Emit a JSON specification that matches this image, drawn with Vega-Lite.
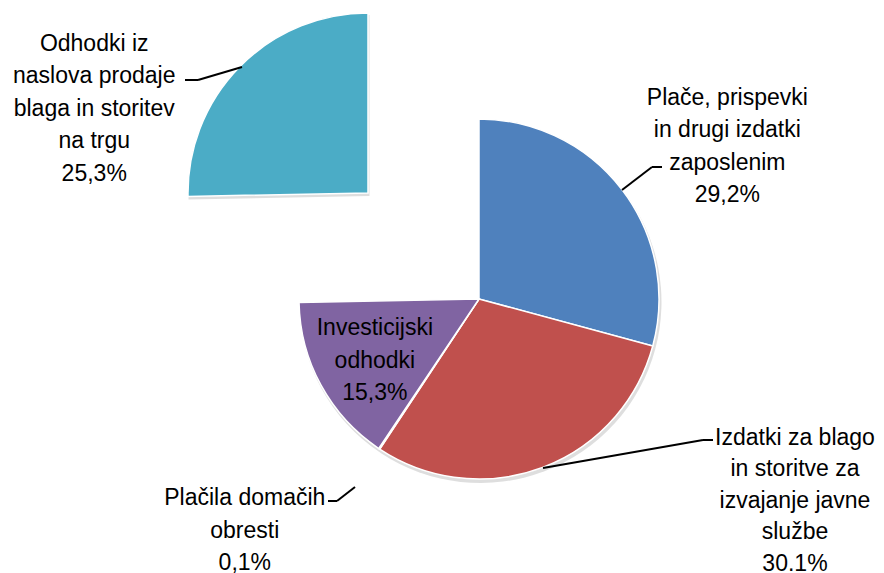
{
  "$schema": "https://vega.github.io/schema/vega-lite/v6.json",
  "width": 884,
  "height": 573,
  "padding": 0,
  "autosize": {"type": "none"},
  "background": "white",
  "config": {"view": {"stroke": null}},
  "data": {"values": [
    {"idx": 1, "cat": "Plače", "value": 29.2, "label": "Plače, prispevki\nin drugi izdatki\nzaposlenim\n29,2%"},
    {"idx": 2, "cat": "Izdatki", "value": 30.1, "label": "Izdatki  za blago\nin storitve  za\nizvajanje javne\nslužbe\n30.1%"},
    {"idx": 3, "cat": "Plačila", "value": 0.1, "label": "Plačila domačih\nobresti\n0,1%"},
    {"idx": 4, "cat": "Investicijski", "value": 15.3, "label": "Investicijski\nodhodki\n15,3%"},
    {"idx": 5, "cat": "Odhodki", "value": 25.3, "label": "Odhodki iz\nnaslova prodaje\nblaga in storitev\nna trgu\n25,3%"}
  ]},
  "layer": [
    {
      "encoding": {
        "theta": {"field": "value", "type": "quantitative", "stack": true},
        "order": {"field": "idx", "type": "quantitative"},
        "detail": {"field": "cat", "type": "nominal"}
      },
      "layer": [
        {
          "mark": {"type": "arc", "radius": 181, "fill": "#000000", "xOffset": 38.5, "yOffset": 15.5},
          "encoding": {
            "opacity": {"condition": {"test": "datum.cat === 'Odhodki'", "value": 0}, "value": 0.13}
          }
        },
        {
          "mark": {"type": "arc", "radius": 181, "fill": "#000000", "xOffset": -72.5, "yOffset": -90.5},
          "encoding": {
            "opacity": {"condition": {"test": "datum.cat === 'Odhodki'", "value": 0.13}, "value": 0}
          }
        },
        {
          "mark": {"type": "arc", "radius": 180, "stroke": "white", "strokeWidth": 1.5, "xOffset": 37, "yOffset": 12.5},
          "encoding": {
            "color": {"field": "cat", "type": "nominal", "legend": null,
              "scale": {"domain": ["Plače", "Izdatki", "Plačila", "Investicijski", "Odhodki"],
                        "range": ["#4F81BD", "#C0504D", "#9BBB59", "#8064A2", "#4BACC6"]}},
            "opacity": {"condition": {"test": "datum.cat === 'Odhodki'", "value": 0}, "value": 1}
          }
        },
        {
          "mark": {"type": "arc", "radius": 180, "stroke": "white", "strokeWidth": 1.5, "xOffset": -74, "yOffset": -93.5},
          "encoding": {
            "color": {"field": "cat", "type": "nominal", "legend": null},
            "opacity": {"condition": {"test": "datum.cat === 'Odhodki'", "value": 1}, "value": 0}
          }
        },
        {
          "mark": {"type": "text", "radius": 280, "xOffset": 37, "yOffset": 12.5, "dx": 26, "dy": -31, "font": "Liberation Sans", "fontSize": 23, "lineHeight": 32.5, "lineBreak": "\n", "align": "center", "baseline": "middle", "fill": "black"},
          "encoding": {"text": {"condition": {"test": "datum.cat === 'Plače'", "field": "label"}, "value": ""}}
        },
        {
          "mark": {"type": "text", "radius": 280, "xOffset": 37, "yOffset": 12.5, "dx": 217, "dy": -123, "font": "Liberation Sans", "fontSize": 23, "lineHeight": 31.5, "lineBreak": "\n", "align": "center", "baseline": "middle", "fill": "black"},
          "encoding": {"text": {"condition": {"test": "datum.cat === 'Izdatki'", "field": "label"}, "value": ""}}
        },
        {
          "mark": {"type": "text", "radius": 280, "xOffset": 37, "yOffset": 12.5, "dx": -79, "dy": -34, "font": "Liberation Sans", "fontSize": 23, "lineHeight": 32.5, "lineBreak": "\n", "align": "center", "baseline": "middle", "fill": "black"},
          "encoding": {"text": {"condition": {"test": "datum.cat === 'Plačila'", "field": "label"}, "value": ""}}
        },
        {
          "mark": {"type": "text", "radius": 130, "xOffset": 37, "yOffset": 12.5, "dx": 10, "dy": -33, "font": "Liberation Sans", "fontSize": 23, "lineHeight": 32.5, "lineBreak": "\n", "align": "center", "baseline": "middle", "fill": "black"},
          "encoding": {"text": {"condition": {"test": "datum.cat === 'Investicijski'", "field": "label"}, "value": ""}}
        },
        {
          "mark": {"type": "text", "radius": 420, "xOffset": 37, "yOffset": 12.5, "dx": -85, "dy": 39, "font": "Liberation Sans", "fontSize": 23, "lineHeight": 32.5, "lineBreak": "\n", "align": "center", "baseline": "middle", "fill": "black"},
          "encoding": {"text": {"condition": {"test": "datum.cat === 'Odhodki'", "field": "label"}, "value": ""}}
        }
      ]
    },
    {"data": {"values": [{}]}, "mark": {"type": "rule", "color": "black", "strokeWidth": 2}, "encoding": {"x": {"value": 185}, "y": {"value": 80}, "x2": {"value": 198}, "y2": {"value": 80}}},
    {"data": {"values": [{}]}, "mark": {"type": "rule", "color": "black", "strokeWidth": 2}, "encoding": {"x": {"value": 198}, "y": {"value": 80}, "x2": {"value": 242}, "y2": {"value": 67}}},
    {"data": {"values": [{}]}, "mark": {"type": "rule", "color": "black", "strokeWidth": 2}, "encoding": {"x": {"value": 652}, "y": {"value": 167}, "x2": {"value": 662}, "y2": {"value": 167}}},
    {"data": {"values": [{}]}, "mark": {"type": "rule", "color": "black", "strokeWidth": 2}, "encoding": {"x": {"value": 652}, "y": {"value": 167}, "x2": {"value": 622}, "y2": {"value": 190}}},
    {"data": {"values": [{}]}, "mark": {"type": "rule", "color": "black", "strokeWidth": 2}, "encoding": {"x": {"value": 703}, "y": {"value": 440}, "x2": {"value": 713}, "y2": {"value": 440}}},
    {"data": {"values": [{}]}, "mark": {"type": "rule", "color": "black", "strokeWidth": 2}, "encoding": {"x": {"value": 703}, "y": {"value": 440}, "x2": {"value": 543}, "y2": {"value": 468}}},
    {"data": {"values": [{}]}, "mark": {"type": "rule", "color": "black", "strokeWidth": 2}, "encoding": {"x": {"value": 328}, "y": {"value": 501}, "x2": {"value": 337}, "y2": {"value": 501}}},
    {"data": {"values": [{}]}, "mark": {"type": "rule", "color": "black", "strokeWidth": 2}, "encoding": {"x": {"value": 337}, "y": {"value": 501}, "x2": {"value": 355}, "y2": {"value": 487}}}
  ]
}
